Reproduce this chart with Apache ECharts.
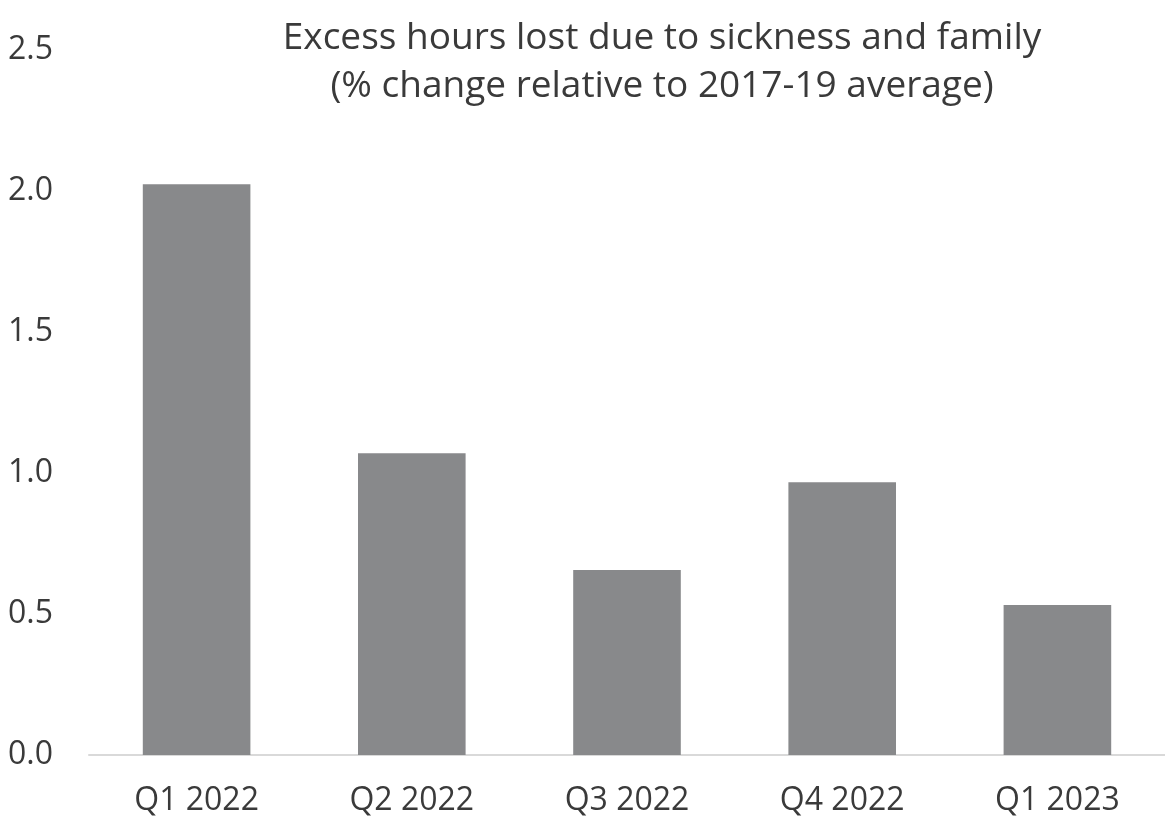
<!DOCTYPE html>
<html>
<head>
<meta charset="utf-8">
<script src="https://cdn.jsdelivr.net/npm/echarts@6/dist/echarts.min.js"></script>
<style>
  html, body { margin: 0; padding: 0; background: #ffffff; }
  #chart { width: 1165px; height: 827px; }
</style>
</head>
<body>
<div id="chart"></div>
<script>
// Quarters shown on the category axis
const quarters = ['Q1 2022', 'Q2 2022', 'Q3 2022', 'Q4 2022', 'Q1 2023'];
// Excess hours lost due to sickness and family, % change vs 2017-19 average
const excessHours = [2.024, 1.07, 0.656, 0.967, 0.532];
// Value axis range and step
const yMin = 0;
const yMax = 2.5;
const yStep = 0.5;

const textColor = '#3a3a3a';
const fontFamily = '"Open Sans", "Noto Sans", sans-serif';

const chart = echarts.init(document.getElementById('chart'));
chart.setOption({
  backgroundColor: '#ffffff',
  animation: false,
  title: {
    text: 'Excess hours lost due to sickness and family\n(% change relative to 2017-19 average)',
    left: 657,
    top: 9,
    textAlign: 'center',
    textStyle: {
      color: textColor,
      fontFamily: fontFamily,
      fontSize: 37,
      fontWeight: 'normal',
      lineHeight: 48
    }
  },
  grid: {
    left: 89,
    top: 50,
    bottom: 72,
    width: 1082,
    containLabel: false
  },
  xAxis: {
    type: 'category',
    data: quarters,
    axisLine: { show: true, lineStyle: { color: '#d9d9d9', width: 2 } },
    axisTick: { show: false },
    axisLabel: {
      color: textColor,
      fontFamily: fontFamily,
      fontSize: 32,
      margin: 30
    }
  },
  yAxis: {
    type: 'value',
    min: yMin,
    max: yMax,
    interval: yStep,
    splitLine: { show: false },
    axisLine: { show: false },
    axisTick: { show: false },
    axisLabel: {
      color: textColor,
      fontFamily: fontFamily,
      fontSize: 32,
      align: 'left',
      margin: 81,
      formatter: v => v.toFixed(1)
    }
  },
  series: [{
    type: 'bar',
    data: excessHours,
    barWidth: '50%',
    itemStyle: { color: '#88898b' }
  }]
});
</script>
</body>
</html>
